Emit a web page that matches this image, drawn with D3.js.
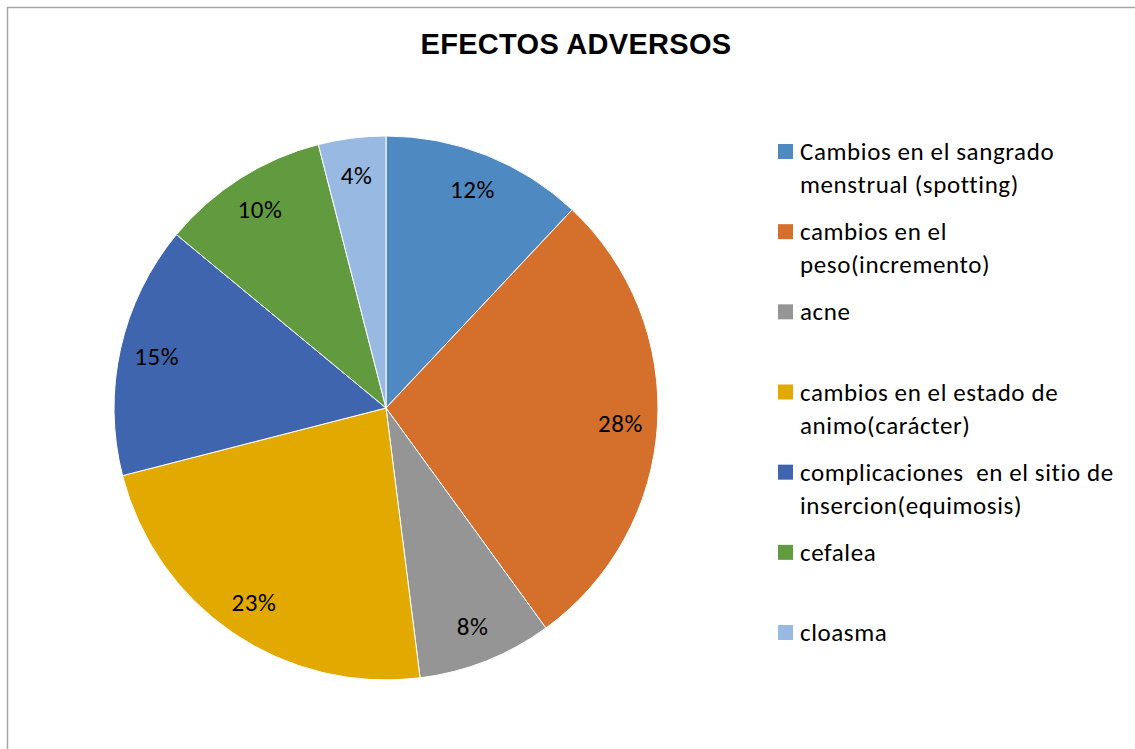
<!DOCTYPE html>
<html>
<head>
<meta charset="utf-8">
<script src="https://cdn.jsdelivr.net/npm/d3@7"></script>
<style>
  body { margin: 0; background: #fff; }
  .lbl, .leg { font-family: Carlito, Calibri, Lato, "Open Sans", sans-serif; font-size: 25px; letter-spacing: 0.6px; font-variant-ligatures: none; fill: #000; }
  .title { font-family: "Liberation Sans", Arial, sans-serif; font-weight: bold; font-size: 29px; letter-spacing: 0.3px; fill: #000; }
</style>
</head>
<body>
<div id="wrapper"></div>
<script>
// data
const categories = [
  "Cambios en el sangrado\nmenstrual (spotting)",
  "cambios en el\npeso(incremento)",
  "acne",
  "cambios en el estado de\nanimo(carácter)",
  "complicaciones  en el sitio de\ninsercion(equimosis)",
  "cefalea",
  "cloasma"
];
const values = [12, 28, 8, 23, 15, 10, 4];
const colors = ["#4f89c1", "#d4702b", "#959595", "#e2aa00", "#3f65ae", "#629b3f", "#98b9e1"];

const width = 1135, height = 749;
const cx = 386, cy = 408, radius = 272;

const svg = d3.select("#wrapper")
  .append("svg")
  .attr("width", width)
  .attr("height", height);

// frame (only left and top edges visible)
svg.append("path")
  .attr("d", "M7.5,749V7.5H1135")
  .attr("fill", "none")
  .attr("stroke", "#a6a6a6")
  .attr("stroke-width", 1.5);

svg.append("text")
  .attr("class", "title")
  .attr("x", 576)
  .attr("y", 54)
  .attr("text-anchor", "middle")
  .text("EFECTOS ADVERSOS");

const total = d3.sum(values);
const pie = d3.pie().sort(null).value(d => d)(values);
const arc = d3.arc().innerRadius(0).outerRadius(radius);
const labelArc = d3.arc().innerRadius(235).outerRadius(235);

const g = svg.append("g").attr("transform", "translate(" + cx + "," + cy + ")");

g.selectAll(".slice")
  .data(pie)
  .enter()
  .append("path")
  .attr("class", "slice")
  .attr("d", arc)
  .attr("fill", (d, i) => colors[i])
  .attr("stroke", "#fff")
  .attr("stroke-width", 1);

const fmt = d3.format(".0%");
g.selectAll(".lbl")
  .data(pie)
  .enter()
  .append("text")
  .attr("class", "lbl")
  .attr("transform", d => "translate(" + labelArc.centroid(d) + ")")
  .attr("text-anchor", "middle")
  .attr("dy", "0.35em")
  .text(d => fmt(d.value / total));

// legend
const legY = d3.scaleLinear().domain([0, categories.length - 1]).range([160, 641]);

const leg = svg.selectAll(".legitem")
  .data(categories)
  .enter()
  .append("g")
  .attr("class", "legitem")
  .attr("transform", (d, i) => "translate(778," + legY(i) + ")");

leg.append("rect")
  .attr("x", 0)
  .attr("y", -16)
  .attr("width", 15)
  .attr("height", 15)
  .attr("fill", (d, i) => colors[i]);

leg.append("text")
  .attr("class", "leg")
  .attr("x", 22)
  .attr("y", 0)
  .selectAll("tspan")
  .data(d => d.split("\n"))
  .enter()
  .append("tspan")
  .attr("x", 22)
  .attr("dy", (d, i) => i ? 33 : 0)
  .style("white-space", "pre")
  .text(d => d);
</script>
</body>
</html>
